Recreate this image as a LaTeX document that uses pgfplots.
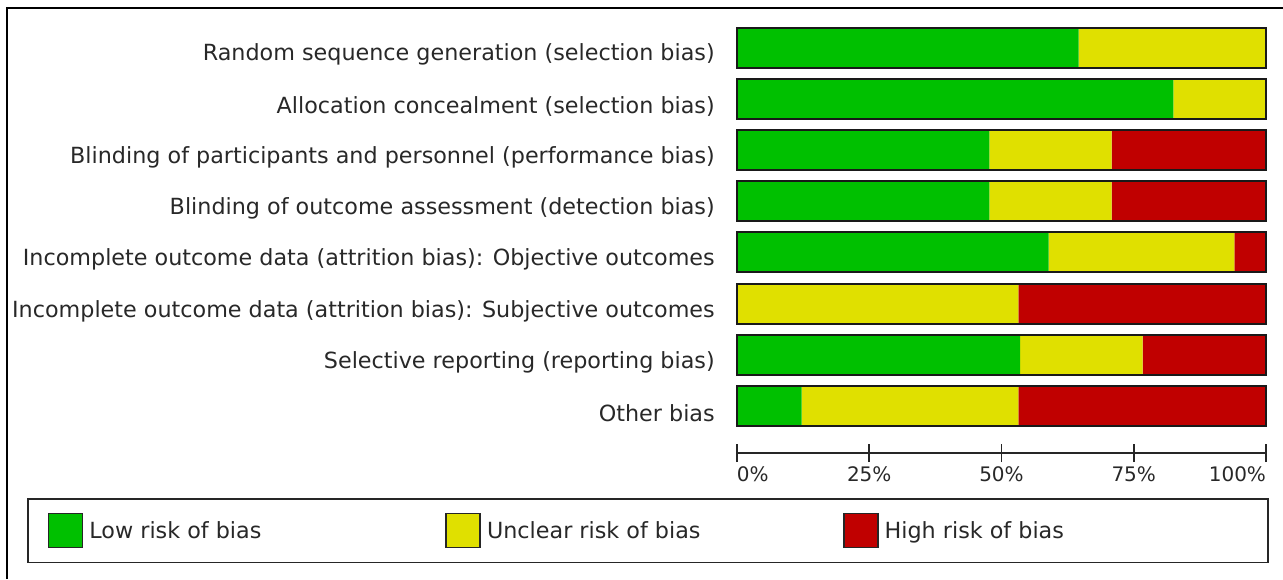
\documentclass[border=0pt]{standalone}
\usepackage{pgfplots}
\usepackage{pgfplotstable}
\pgfplotsset{compat=1.18}
\usepackage{fontspec}
\setmainfont{DejaVu Sans}
\definecolor{lowc}{RGB}{0,192,0}
\definecolor{uncc}{RGB}{224,224,0}
\definecolor{highc}{RGB}{192,0,0}
\definecolor{txt}{RGB}{40,40,40}

\pgfplotstableread{
y low unclear high total
8 64.6 35.4 0 100
7 82.5 17.5 0 100
6 47.7 23.1 29.2 100
5 47.7 23.1 29.2 100
4 58.9 35.1 6.0 100
3 0 53.2 46.8 100
2 53.5 23.2 23.3 100
1 12.2 41.0 46.8 100
}\robdata

\pgfplotsset{
  robgeom/.style={
    at={(552.75pt,-339.75pt)}, anchor=south west,
    scale only axis, width=396.75pt, height=324.75pt,
    xmin=0, xmax=100, ymin=0.082, ymax=8.537,
    bar width=30pt,
  }
}

\begin{document}
\begin{tikzpicture}[x=1pt,y=1pt]
\useasboundingbox (0,0) rectangle (962.25,-434.25);
\draw[line width=1.5pt, black] (5.25,-434.25) -- (5.25,-6) -- (962.25,-6);
\begin{axis}[robgeom,
  xbar stacked,
  axis x line*=bottom, axis y line*=left,
  y axis line style={draw=none},
  x axis line style={-, line width=1.2pt, black!85},
  ytick={1,2,3,4,5,6,7,8},
  yticklabels={Other bias,
    Selective reporting (reporting bias),
    Incomplete outcome data (attrition bias): Subjective outcomes,
    Incomplete outcome data (attrition bias): Objective outcomes,
    Blinding of outcome assessment (detection bias),
    Blinding of participants and personnel (performance bias),
    Allocation concealment (selection bias),
    Random sequence generation (selection bias)},
  ytick style={draw=none},
  yticklabel style={anchor=east, inner sep=0pt, xshift=-16.5pt, yshift=-5.5pt, font=\fontsize{16.7}{20}\selectfont, text=txt},
  xtick={0,25,50,75,100},
  xtick align=center,
  major tick length=13.5pt,
  xtick style={line width=1.2pt, black!85},
  xticklabel={\ifcase\ticknum\makebox[0pt][l]{0\%}\or 25\%\or 50\%\or 75\%\or\makebox[0pt][r]{100\%}\fi},
  xticklabel style={anchor=north, inner sep=0pt, yshift=-3pt, font=\fontsize{15}{18}\selectfont, text=txt},
  legend columns=3,
  legend image code/.code={\draw[#1, draw=black!85, line width=1.2pt] (0pt,-12.75pt) rectangle (25.5pt,12.75pt);},
  legend style={at={(axis description cs:-1.342,-0.1039)}, anchor=north west,
    draw=black!85, line width=1.2pt, inner xsep=15pt, inner ysep=10.5pt,
    font=\fontsize{16.7}{20}\selectfont, text=txt,
    nodes={inner sep=0pt},
    /tikz/every even column/.append style={column sep=0pt},
    /tikz/every odd column/.append style={column sep=0pt}},
]
\addplot[fill=lowc, draw=none] table[x=low, y=y]{\robdata};
\addlegendentry{\makebox[271.5pt][l]{\hspace{4.5pt}Low risk of bias}}
\addplot[fill=uncc, draw=none] table[x=unclear, y=y]{\robdata};
\addlegendentry{\makebox[271.5pt][l]{\hspace{4.5pt}Unclear risk of bias}}
\addplot[fill=highc, draw=none] table[x=high, y=y]{\robdata};
\addlegendentry{\makebox[277pt][l]{\hspace{4.5pt}High risk of bias}}
\end{axis}
\begin{axis}[robgeom, hide axis, xbar, clip=false]
\addplot[fill=none, draw=black!90, line width=1.5pt] table[x=total, y=y]{\robdata};
\end{axis}
\end{tikzpicture}
\end{document}
